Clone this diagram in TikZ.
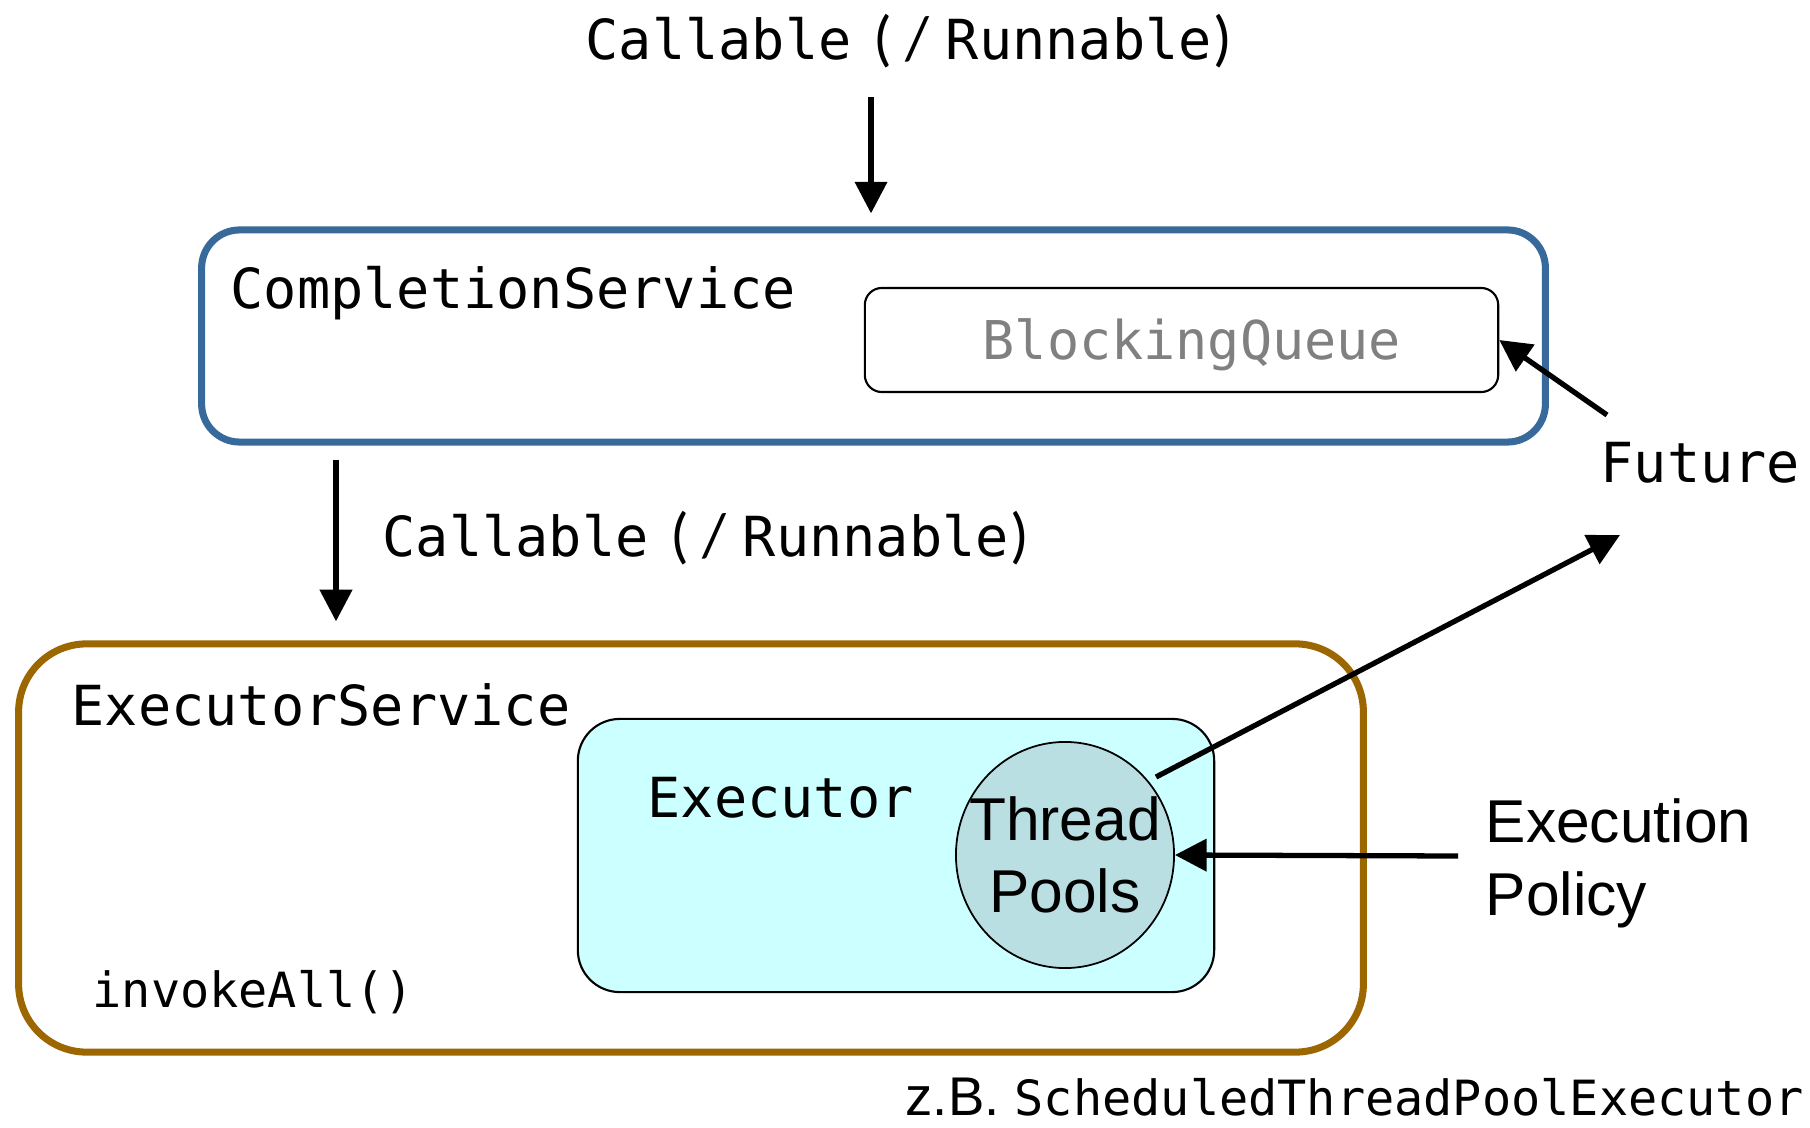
\documentclass[tikz,border=0pt]{standalone}
\usepackage{fontspec}
\newfontfamily\monof{DejaVu Sans Mono}
\newfontfamily\sansf{Liberation Sans}
\newfontfamily\carlf{Carlito}
\usetikzlibrary{arrows.meta,shapes.geometric}
\definecolor{csblue}{RGB}{55,106,155}
\definecolor{esbrown}{RGB}{156,102,0}
\definecolor{exfill}{RGB}{204,255,255}
\definecolor{tpfill}{RGB}{185,223,226}
\definecolor{bqgray}{RGB}{128,128,128}
% "Callable ( / Runnable)" with mono words and sans punctuation
\newcommand\callrun{%
  \makebox[2.88cm][l]{Callable}%
  \makebox[0.32cm][l]{\carlf\fontsize{17.6}{20}\selectfont(}%
  \makebox[0.40cm][l]{\carlf\fontsize{17.6}{20}\selectfont/}%
  \makebox[2.67cm][l]{Runnable}%
  {\carlf\fontsize{17.6}{20}\selectfont)}}
\begin{document}
\begin{tikzpicture}[x=0.01cm,y=-0.01cm,
  conn/.style={line width=1.5pt,-{Triangle[width=9pt,length=9pt]}},
  mono/.style={font=\monof\fontsize{15.7}{18}\selectfont},
  smallmono/.style={font=\monof\fontsize{13.8}{16}\selectfont},
  sanslabel/.style={font=\sansf\fontsize{17.2}{20.5}\selectfont},
  txt/.style={inner sep=0pt,anchor=base west},
  frame/.style={inner sep=0pt,rounded corners=#1},
]
\useasboundingbox[fill=white] (0,0) rectangle (1810,1128);

% CompletionService with its queue
\node[frame=0.38cm,draw=csblue,line width=2pt,minimum width=13.43cm,minimum height=2.12cm] (cs) at (873.5,336) {};
\node[txt,mono] (csl) at (230,309) {CompletionService};
\node[frame=0.17cm,draw=black,line width=0.6pt,minimum width=6.33cm,minimum height=1.04cm] (bq) at (1181.5,340) {};
\node[txt,font=\monof\fontsize{15.2}{18}\selectfont,text=bqgray] (bql) at (982,360) {BlockingQueue};

% ExecutorService with the Executor and its thread pools
\node[frame=0.68cm,draw=esbrown,line width=2pt,minimum width=13.44cm,minimum height=4.08cm] (es) at (691,848) {};
\node[txt,mono] (esl) at (71,725) {ExecutorService};
\node[frame=0.42cm,draw=black,line width=0.6pt,fill=exfill,minimum width=6.36cm,minimum height=2.73cm] (ex) at (896,855.5) {};
\node[txt,mono] (exl) at (647,817) {Executor};
\node[ellipse,draw=black,line width=0.5pt,fill=tpfill,inner sep=0pt,minimum width=2.18cm,minimum height=2.26cm] (tp) at (1065,855) {};
\node[sanslabel,align=center,inner sep=0pt] (tpl) at (tp.center) {Thread\\Pools};
\node[txt,smallmono] (inv) at (92,1007) {invokeAll()};

% labels outside the frames
\node[txt,mono] (in1l) at (585,60) {\callrun};
\node[txt,mono] (in2l) at (382,557) {\callrun};
\node[txt,mono] (fut) at (1600,482) {Future};
\node[txt,sanslabel,align=left] (ep) at (1485,915) {Execution\\Policy};
\node[txt] (zb) at (905,1115) {{\sansf\fontsize{15.5}{18}\selectfont z.B. }{\monof\fontsize{13.8}{16}\selectfont ScheduledThreadPoolExecutor}};

% connectors
\coordinate (a1) at (871,97);
\coordinate (a2) at (336,460);
\coordinate (fq) at (1607,415);
\coordinate (tpo) at (1156,777);
\coordinate (ff) at (1620,535);
\coordinate (epo) at (1458,856);
\draw[conn,shorten >=0.13cm] (a1) -- (a1 |- cs.north);
\draw[conn,shorten >=0.19cm] (a2) -- (a2 |- es.north);
\draw[conn] (fq) -- (bq.east);
\draw[conn] (tpo) -- (ff);
\draw[conn] (epo) -- (tp.east);
\end{tikzpicture}
\end{document}
